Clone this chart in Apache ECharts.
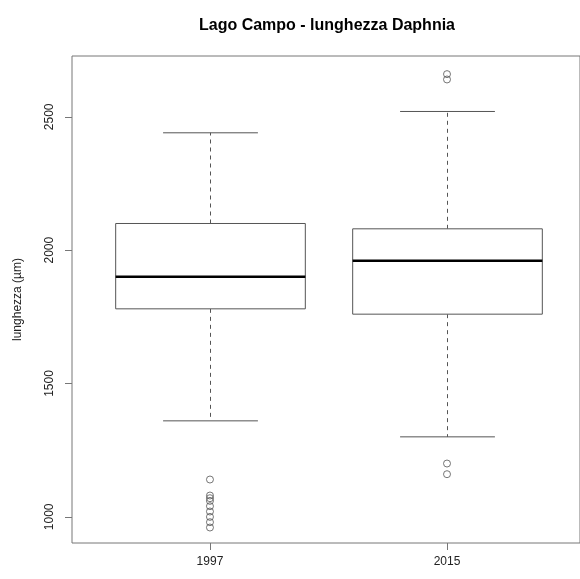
<!DOCTYPE html>
<html>
<head>
<meta charset="utf-8">
<script src="https://cdn.jsdelivr.net/npm/echarts@6/dist/echarts.min.js"></script>
<style>
  html, body { margin: 0; padding: 0; background: #fff; }
  #chart { width: 580px; height: 579px; }
</style>
</head>
<body>
<div id="chart"></div>
<script>
// Groups (sampling years) and their positions on the x scale
const years = ['1997', '2015'];
const positions = [1, 2];

// Five-number summaries per year: [lower whisker, Q1, median, Q3, upper whisker]
const lowerWhisker = [1360, 1300];
const q1 = [1780, 1760];
const median = [1900, 1960];
const q3 = [2100, 2080];
const upperWhisker = [2440, 2520];

// Outlying measurements per year
const outliers1997 = [1140, 1080, 1070, 1060, 1040, 1020, 1000, 980, 960];
const outliers2015 = [2660, 2640, 1200, 1160];

// Y-axis tick values
const yTicks = [1000, 1500, 2000, 2500];

const BOX_WIDTH = 0.8;
const CAP_WIDTH = 0.4;
const LINE = '#555';

const boxData = positions.map((p, i) => [p, lowerWhisker[i], q1[i], median[i], q3[i], upperWhisker[i]]);
const outlierData = []
  .concat(outliers1997.map(v => [positions[0], v]))
  .concat(outliers2015.map(v => [positions[1], v]));

const chart = echarts.init(document.getElementById('chart'), null, { renderer: 'canvas' });

chart.setOption({
  animation: false,
  backgroundColor: '#fff',
  title: {
    text: 'Lago Campo - lunghezza Daphnia',
    left: 322,
    top: 13,
    textAlign: 'center',
    textStyle: { fontFamily: 'Liberation Sans', fontWeight: 'bold', fontSize: 16, color: '#000' }
  },
  grid: {
    show: true,
    left: 72, right: 0, top: 56, bottom: 36,
    borderColor: '#777', borderWidth: 1,
    backgroundColor: 'transparent'
  },
  xAxis: {
    type: 'value',
    min: 0.418, max: 2.561,
    splitLine: { show: false },
    axisLine: { show: false },
    axisTick: { show: true, length: 7, lineStyle: { color: '#777' }, customValues: positions },
    axisLabel: {
      customValues: positions,
      margin: 13,
      fontFamily: 'Liberation Sans', fontSize: 12, color: '#222',
      formatter: v => years[positions.indexOf(v)] || ''
    }
  },
  yAxis: {
    type: 'value',
    min: 902, max: 2728,
    splitLine: { show: false },
    axisLine: { show: false },
    axisTick: { show: true, length: 7, lineStyle: { color: '#777' }, customValues: yTicks },
    axisLabel: {
      customValues: yTicks,
      rotate: 90,
      margin: 16,
      fontFamily: 'Liberation Sans', fontSize: 12, color: '#222',
      formatter: v => String(v)
    },
    name: 'lunghezza (µm)',
    nameLocation: 'middle',
    nameRotate: 90,
    nameGap: 48,
    nameTextStyle: { fontFamily: 'Liberation Sans', fontSize: 12, color: '#222' }
  },
  series: [
    {
      type: 'custom',
      data: boxData,
      encode: { x: 0, y: [1, 2, 3, 4, 5] },
      renderItem: function (params, api) {
        const x = api.value(0);
        const pLo = api.coord([x, api.value(1)]);
        const pQ1 = api.coord([x, api.value(2)]);
        const pMed = api.coord([x, api.value(3)]);
        const pQ3 = api.coord([x, api.value(4)]);
        const pHi = api.coord([x, api.value(5)]);
        const bw = api.size([BOX_WIDTH, 0])[0];
        const cw = api.size([CAP_WIDTH, 0])[0];
        // snap the vertical whisker to the pixel grid so it stays a crisp 1px line
        const cx = Math.round(pMed[0]) + 0.5;
        const dashed = { stroke: LINE, lineWidth: 1, lineDash: [4, 4], fill: null };
        const solid = { stroke: LINE, lineWidth: 1, fill: null };
        return {
          type: 'group',
          children: [
            { type: 'line', shape: { x1: cx, y1: pQ3[1], x2: cx, y2: pHi[1] }, style: dashed },
            { type: 'line', shape: { x1: cx, y1: pQ1[1], x2: cx, y2: pLo[1] }, style: dashed },
            { type: 'line', shape: { x1: cx - cw / 2, y1: pHi[1], x2: cx + cw / 2, y2: pHi[1] }, style: solid },
            { type: 'line', shape: { x1: cx - cw / 2, y1: pLo[1], x2: cx + cw / 2, y2: pLo[1] }, style: solid },
            { type: 'rect', shape: { x: cx - bw / 2, y: pQ3[1], width: bw, height: pQ1[1] - pQ3[1] },
              style: { stroke: LINE, lineWidth: 1, fill: '#fff' } },
            { type: 'line', shape: { x1: cx - bw / 2, y1: pMed[1], x2: cx + bw / 2, y2: pMed[1] },
              style: { stroke: '#000', lineWidth: 2.5 } }
          ]
        };
      }
    },
    {
      type: 'scatter',
      data: outlierData,
      symbol: 'circle',
      symbolSize: 7,
      itemStyle: { color: 'transparent', borderColor: '#555', borderWidth: 1 }
    }
  ]
});
</script>
</body>
</html>
